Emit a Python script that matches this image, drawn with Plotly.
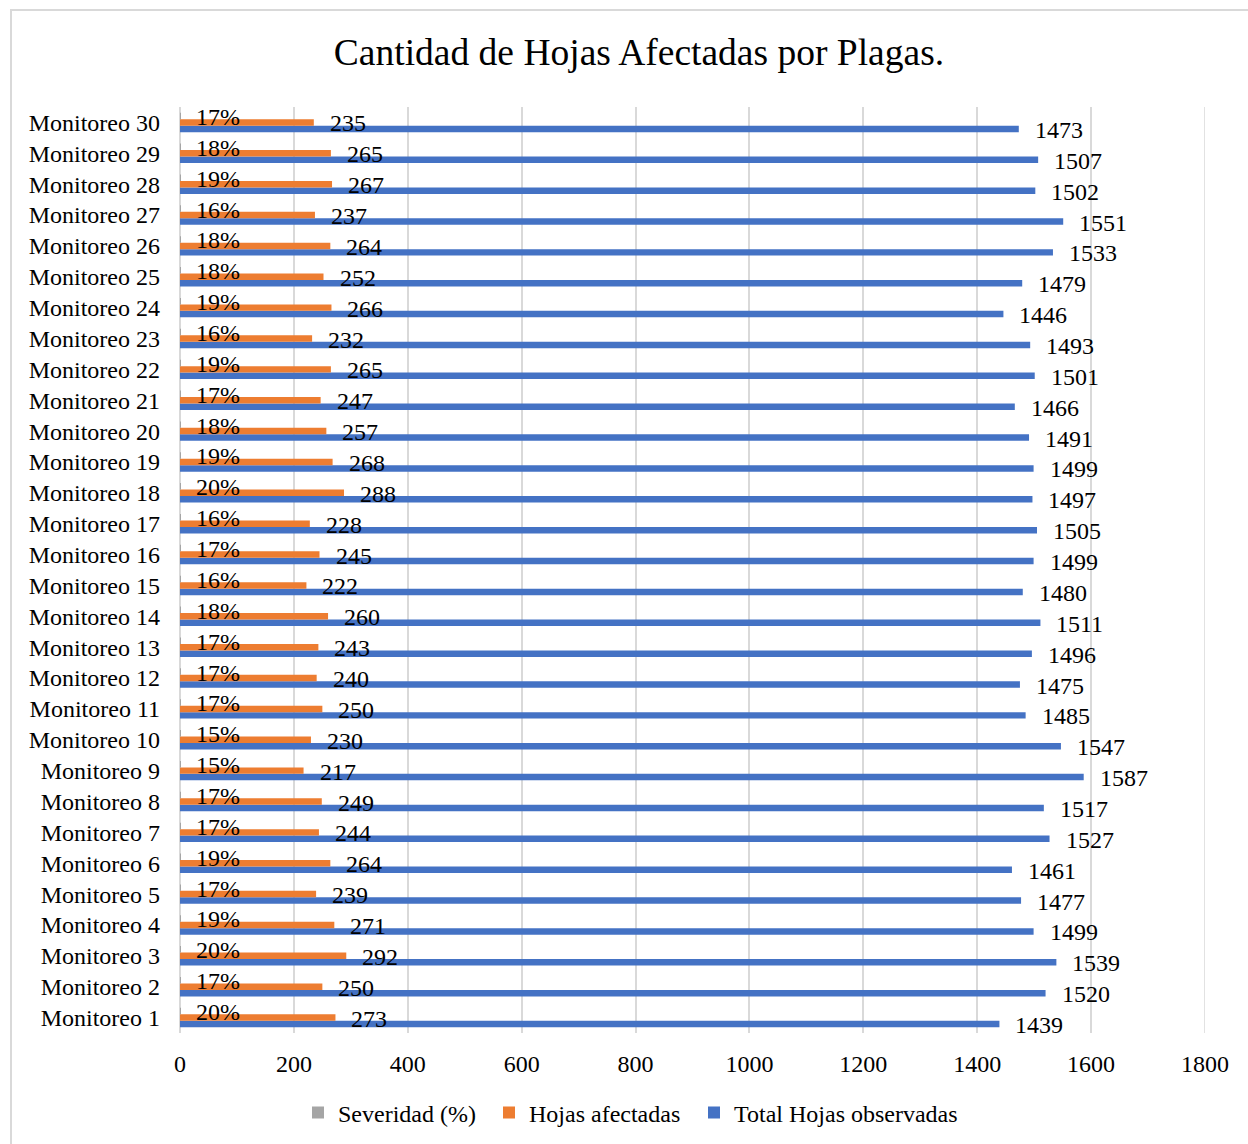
import plotly.graph_objects as go

# Monitoring rounds, bottom (1) to top (30)
monitoreos = [f"Monitoreo {i}" for i in range(1, 31)]

# Severity as a fraction (shown as a percentage label)
severidad = [0.20, 0.17, 0.20, 0.19, 0.17, 0.19, 0.17, 0.17, 0.15, 0.15,
             0.17, 0.17, 0.17, 0.18, 0.16, 0.17, 0.16, 0.20, 0.19, 0.18,
             0.17, 0.19, 0.16, 0.19, 0.18, 0.18, 0.16, 0.19, 0.18, 0.17]

hojas_afectadas = [273, 250, 292, 271, 239, 264, 244, 249, 217, 230,
                   250, 240, 243, 260, 222, 245, 228, 288, 268, 257,
                   247, 265, 232, 266, 252, 264, 237, 267, 265, 235]

total_hojas = [1439, 1520, 1539, 1499, 1477, 1461, 1527, 1517, 1587, 1547,
               1485, 1475, 1496, 1511, 1480, 1499, 1505, 1497, 1499, 1491,
               1466, 1501, 1493, 1446, 1479, 1533, 1551, 1502, 1507, 1473]

x_ticks = [0, 200, 400, 600, 800, 1000, 1200, 1400, 1600, 1800]

FONT = "Liberation Serif, Times New Roman, serif"
FS = 24
GRID = "#D9D9D9"
BLUE, ORANGE, GREY = "#4472C4", "#ED7D31", "#A5A5A5"

W, H = 1248, 1144
ML, MR, MT, MB = 180, 43, 107, 111
BARGAP = 0.37
pw = W - ML - MR
ph = H - MT - MB

fig = go.Figure()
# plotted bottom-to-top within each group: total, afectadas, severidad;
# each series gets its own legend box so entries can be spaced freely
series = [
    ("Total Hojas observadas", total_hojas, BLUE, "legend3", 694),
    ("Hojas afectadas", hojas_afectadas, ORANGE, "legend2", 489),
    ("Severidad (%)", severidad, GREY, "legend", 298),
]
legend_boxes = {}
for name, vals, color, leg, lx in series:
    fig.add_trace(go.Bar(
        y=monitoreos, x=vals, name=name, orientation="h",
        marker=dict(color=color, line=dict(width=0)),
        legend=leg, showlegend=True, hoverinfo="skip",
    ))
    legend_boxes[leg] = dict(
        orientation="h", x=(lx - ML) / pw, xanchor="left",
        y=-(1113 - (H - MB)) / ph, yanchor="middle",
        font=dict(family=FONT, size=FS, color="black"),
        bgcolor="rgba(0,0,0,0)", visible=True,
    )

# value labels, placed just right of each bar end
step = (1 - BARGAP) / 3
annotations = []
for k, (name, vals, color, leg, lx) in enumerate(series):
    off = (k - 1) * step
    for i, v in enumerate(vals):
        txt = f"{v:.0%}" if name.startswith("Severidad") else f"{v}"
        annotations.append(dict(
            x=v, y=i + off, xref="x", yref="y", text=txt, showarrow=False,
            xanchor="left", yanchor="middle", xshift=14, yshift=-1,
            font=dict(family=FONT, size=FS, color="black"),
        ))

fig.update_layout(
    width=W, height=H, showlegend=True,
    margin=dict(l=ML, r=MR, t=MT, b=MB, autoexpand=False),
    paper_bgcolor="white", plot_bgcolor="white",
    barmode="group", bargap=BARGAP, bargroupgap=0,
    font=dict(family=FONT, size=FS, color="black"),
    title=dict(text="Cantidad de Hojas Afectadas por Plagas.",
               x=639 / W, xanchor="center", xref="container",
               y=1 - 52 / H, yanchor="middle", yref="container",
               font=dict(family=FONT, size=37.5, color="black")),
    xaxis=dict(range=[0, 1800], tickvals=x_ticks,
               ticktext=[str(t) for t in x_ticks],
               showgrid=True, gridcolor=GRID, gridwidth=1.5,
               zeroline=True, zerolinecolor=GRID, zerolinewidth=1.5,
               showline=False, ticks="", ticklabelstandoff=14,
               tickfont=dict(family=FONT, size=FS, color="black"),
               automargin=False, fixedrange=True),
    yaxis=dict(type="category", range=[-0.5, 29.5],
               showgrid=False, zeroline=False, showline=False, ticks="",
               ticklabelstandoff=19,
               tickfont=dict(family=FONT, size=FS, color="black"),
               automargin=False, fixedrange=True),
    annotations=annotations,
    shapes=[
        # gridline at the last tick (plotly skips gridlines on the plot edge)
        dict(type="line", xref="x", yref="paper",
             x0=x_ticks[-1], x1=x_ticks[-1], y0=0, y1=1,
             line=dict(color=GRID, width=1.5), layer="below"),
        # outer chart border
        dict(type="rect", xref="paper", yref="paper",
             x0=(11 - ML) / pw, x1=(W + 20 - ML) / pw,
             y0=-(H + 20 - (H - MB)) / ph, y1=((H - MB) - 10) / ph,
             line=dict(color=GRID, width=2), fillcolor="rgba(0,0,0,0)",
             layer="below"),
    ],
    **legend_boxes,
)

fig.write_html("out.html")
